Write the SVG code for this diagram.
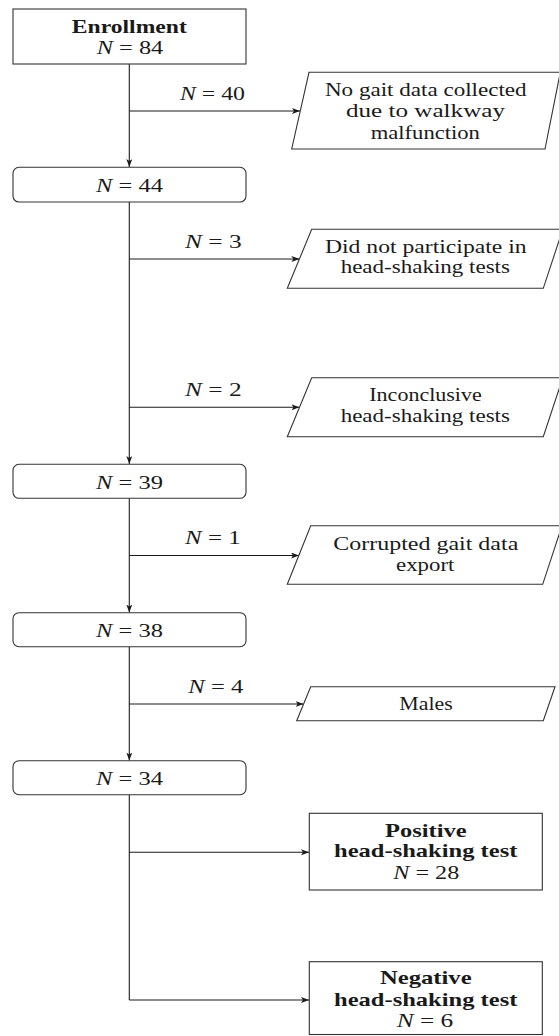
<svg xmlns="http://www.w3.org/2000/svg" width="559" height="1036" viewBox="0 0 559 1036">
<style>
text{font-family:"Liberation Serif","Times New Roman",serif;font-size:19px;fill:#1a1a1a;text-anchor:middle}
.b{font-weight:bold}
.m tspan.i{font-style:italic}
.box{fill:#fff;stroke:#333;stroke-width:1.1}
.con{fill:none;stroke:#1a1a1a;stroke-width:1.1}
</style>
<defs>
<marker id="ah" viewBox="0 0 8 6" refX="8" refY="3" markerWidth="8" markerHeight="6" markerUnits="userSpaceOnUse" orient="auto">
<path d="M0,0 L8,3 L0,6 L2,3 z" fill="#1a1a1a"/>
</marker>
</defs>
<rect width="559" height="1036" fill="#fff"/>
<g id="connectors">
<path class="con" d="M129.3,64 V167" marker-end="url(#ah)"/>
<path class="con" d="M129.3,111 H300" marker-end="url(#ah)"/>
<path class="con" d="M129.3,202 V464" marker-end="url(#ah)"/>
<path class="con" d="M129.3,259 H299.4" marker-end="url(#ah)"/>
<path class="con" d="M129.3,407.3 H299.5" marker-end="url(#ah)"/>
<path class="con" d="M129.3,498.3 V612.5" marker-end="url(#ah)"/>
<path class="con" d="M129.3,555.5 H299" marker-end="url(#ah)"/>
<path class="con" d="M129.3,646.7 V760.5" marker-end="url(#ah)"/>
<path class="con" d="M129.3,704 H303.6" marker-end="url(#ah)"/>
<path class="con" d="M129.3,794.7 V1000"/>
<path class="con" d="M129.3,852.3 H309" marker-end="url(#ah)"/>
<path class="con" d="M129.3,1000 H309" marker-end="url(#ah)"/>
<text class="m" x="212.5" y="100" textLength="65" lengthAdjust="spacingAndGlyphs"><tspan class="i">N</tspan> = 40</text>
<text class="m" x="213.3" y="248.3" textLength="56.7" lengthAdjust="spacingAndGlyphs"><tspan class="i">N</tspan> = 3</text>
<text class="m" x="213.3" y="396" textLength="56.7" lengthAdjust="spacingAndGlyphs"><tspan class="i">N</tspan> = 2</text>
<text class="m" x="212.9" y="544" textLength="55.7" lengthAdjust="spacingAndGlyphs"><tspan class="i">N</tspan> = 1</text>
<text class="m" x="215.8" y="692.7" textLength="55" lengthAdjust="spacingAndGlyphs"><tspan class="i">N</tspan> = 4</text>
</g>
<g id="enrollment">
<rect class="box" x="13" y="9" width="233" height="55"/>
<text class="b" x="129.3" y="32.5" textLength="115" lengthAdjust="spacingAndGlyphs">Enrollment</text>
<text class="m" x="130" y="54" textLength="66.6" lengthAdjust="spacingAndGlyphs"><tspan class="i">N</tspan> = 84</text>
</g>
<g id="n44">
<rect class="box" x="13" y="167.3" width="233" height="34.7" rx="6"/>
<text class="m" x="129.5" y="191.5" textLength="67" lengthAdjust="spacingAndGlyphs"><tspan class="i">N</tspan> = 44</text>
</g>
<g id="n39">
<rect class="box" x="13" y="464.3" width="233" height="34" rx="6"/>
<text class="m" x="129.5" y="488.5" textLength="67" lengthAdjust="spacingAndGlyphs"><tspan class="i">N</tspan> = 39</text>
</g>
<g id="n38">
<rect class="box" x="13" y="612.7" width="233" height="34" rx="6"/>
<text class="m" x="129.5" y="636.7" textLength="67" lengthAdjust="spacingAndGlyphs"><tspan class="i">N</tspan> = 38</text>
</g>
<g id="n34">
<rect class="box" x="13" y="760.7" width="233" height="34" rx="6"/>
<text class="m" x="129.5" y="785" textLength="67" lengthAdjust="spacingAndGlyphs"><tspan class="i">N</tspan> = 34</text>
</g>
<g id="nogait">
<polygon class="box" points="309,72.3 560.3,72.3 545,149 291.7,149"/>
<text x="425.8" y="96" textLength="201.7" lengthAdjust="spacingAndGlyphs">No gait data collected</text>
<text x="425.5" y="117.3" textLength="159" lengthAdjust="spacingAndGlyphs">due to walkway</text>
<text x="425.3" y="138.5" textLength="109.3" lengthAdjust="spacingAndGlyphs">malfunction</text>
</g>
<g id="noparticipate">
<polygon class="box" points="311.7,229.3 562.8,229.3 543.3,288.3 287.3,288.3"/>
<text x="425.8" y="252.7" textLength="201.7" lengthAdjust="spacingAndGlyphs">Did not participate in</text>
<text x="425.3" y="273.3" textLength="169.3" lengthAdjust="spacingAndGlyphs">head-shaking tests</text>
</g>
<g id="inconclusive">
<polygon class="box" points="311.7,377.7 562.8,377.7 543.3,436.7 287.3,436.7"/>
<text x="425.5" y="401" textLength="112.4" lengthAdjust="spacingAndGlyphs">Inconclusive</text>
<text x="425.3" y="421.7" textLength="169.3" lengthAdjust="spacingAndGlyphs">head-shaking tests</text>
</g>
<g id="corrupted">
<polygon class="box" points="310.7,525.7 562,525.7 542.7,584.3 287.3,584.3"/>
<text x="425.8" y="550" textLength="185" lengthAdjust="spacingAndGlyphs">Corrupted gait data</text>
<text x="425.2" y="571" textLength="58.3" lengthAdjust="spacingAndGlyphs">export</text>
</g>
<g id="males">
<polygon class="box" points="310.7,686.7 555,686.7 543.3,720.7 296.7,720.7"/>
<text x="426" y="710" textLength="53.4" lengthAdjust="spacingAndGlyphs">Males</text>
</g>
<g id="positive">
<rect class="box" x="309.3" y="813.3" width="233" height="76.7"/>
<text class="b" x="425.8" y="836.7" textLength="81.7" lengthAdjust="spacingAndGlyphs">Positive</text>
<text class="b" x="425.7" y="857.3" textLength="183.3" lengthAdjust="spacingAndGlyphs">head-shaking test</text>
<text class="m" x="426.3" y="879.3" textLength="66" lengthAdjust="spacingAndGlyphs"><tspan class="i">N</tspan> = 28</text>
</g>
<g id="negative">
<rect class="box" x="309.3" y="961.7" width="233" height="72.8"/>
<text class="b" x="425.8" y="984" textLength="91.7" lengthAdjust="spacingAndGlyphs">Negative</text>
<text class="b" x="425.7" y="1006" textLength="183.3" lengthAdjust="spacingAndGlyphs">head-shaking test</text>
<text class="m" x="425" y="1027.3" textLength="56.6" lengthAdjust="spacingAndGlyphs"><tspan class="i">N</tspan> = 6</text>
</g>
</svg>
